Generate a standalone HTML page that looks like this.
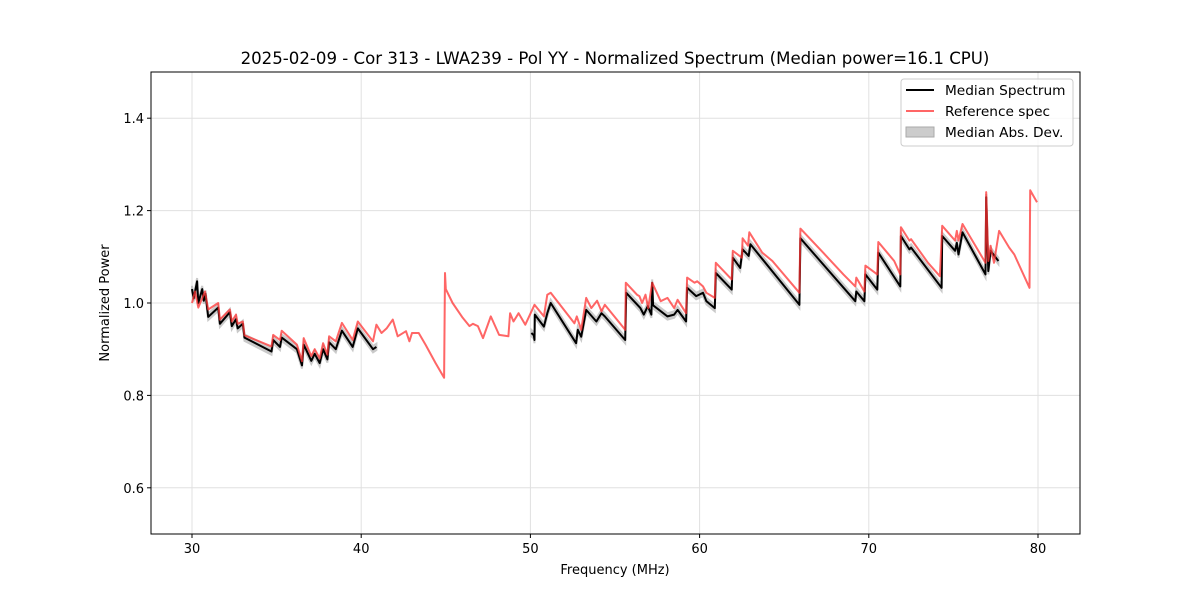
<!DOCTYPE html>
<html><head><meta charset="utf-8"><style>
body{margin:0;background:#fff;font-family:"Liberation Sans","DejaVu Sans",sans-serif}
svg text{font-family:"DejaVu Sans","Liberation Sans",sans-serif}
</style></head><body>
<svg id="chart" width="1200" height="600" xmlns="http://www.w3.org/2000/svg"></svg>
<script>
const refFreq=[30.0,30.18,30.37,30.77,30.96,31.55,31.65,32.24,32.35,32.6,32.7,33.0,33.1,34.7,34.8,35.2,35.3,36.2,36.5,36.6,37.05,37.25,37.55,37.75,38.0,38.1,38.5,38.86,39.5,39.8,40.7,40.9,41.2,41.5,41.87,42.16,42.65,42.85,43.0,43.4,43.8,44.4,44.9,44.95,45.0,45.4,46.0,46.4,46.6,46.9,47.2,47.66,48.15,48.7,48.8,49.0,49.3,49.7,50.24,50.8,51.0,51.2,52.6,52.74,53.0,53.3,53.6,53.94,54.2,54.4,55.6,55.64,56.3,56.44,56.6,56.8,56.96,57.2,57.7,58.1,58.5,58.7,59.2,59.26,59.7,59.86,60.2,60.4,60.9,60.96,61.9,61.96,62.5,62.54,62.86,62.94,63.7,64.3,65.9,65.96,67.3,68.5,69.2,69.26,69.74,69.8,70.5,70.56,71.5,71.86,71.9,72.4,72.5,73.5,74.2,74.34,75.1,75.2,75.3,75.54,76.9,76.94,77.06,77.2,77.4,77.7,78.3,78.6,79.5,79.54,79.94];
const refVal=[1.0,1.025,0.99,1.025,0.986,1.0,0.964,0.986,0.96,0.975,0.955,0.96,0.93,0.906,0.931,0.92,0.94,0.91,0.874,0.924,0.885,0.9,0.88,0.913,0.888,0.928,0.917,0.957,0.92,0.96,0.917,0.953,0.935,0.945,0.964,0.928,0.939,0.917,0.935,0.935,0.91,0.87,0.838,1.065,1.03,1.0,0.968,0.95,0.955,0.95,0.924,0.971,0.931,0.928,0.978,0.96,0.978,0.953,0.996,0.971,1.018,1.022,0.956,0.971,0.942,1.011,0.989,1.005,0.982,0.996,0.942,1.044,1.018,1.015,1.0,1.018,0.989,1.044,1.004,1.011,0.989,1.007,0.978,1.055,1.044,1.047,1.036,1.022,1.011,1.087,1.051,1.113,1.098,1.14,1.124,1.153,1.109,1.091,1.022,1.161,1.109,1.062,1.036,1.055,1.025,1.081,1.062,1.132,1.091,1.062,1.164,1.135,1.138,1.087,1.058,1.167,1.135,1.156,1.135,1.171,1.087,1.24,1.091,1.124,1.087,1.156,1.12,1.105,1.033,1.244,1.218];
const medFreqA=[30.0,30.1,30.3,30.37,30.6,30.7,30.8,30.96,31.55,31.65,32.24,32.35,32.6,32.7,33.0,33.1,34.7,34.8,35.2,35.3,36.2,36.5,36.6,37.05,37.25,37.55,37.75,38.0,38.1,38.5,38.86,39.5,39.8,40.7,40.9];
const medValA=[1.03,1.01,1.047,1.0,1.03,1.005,1.02,0.97,0.99,0.955,0.98,0.95,0.965,0.945,0.955,0.925,0.895,0.92,0.905,0.925,0.9,0.865,0.91,0.875,0.89,0.87,0.9,0.878,0.915,0.9,0.94,0.905,0.945,0.9,0.905];
const medFreqB=[50.06,50.2,50.24,50.26,50.8,51.0,51.2,52.7,52.8,53.0,53.3,53.9,54.2,54.4,55.6,55.66,56.5,56.7,56.94,57.15,57.2,57.25,58.1,58.5,58.7,59.2,59.26,59.8,60.2,60.4,60.9,60.96,61.9,61.96,62.4,62.54,62.9,63.0,65.9,65.96,69.2,69.26,69.74,69.8,70.5,70.56,71.86,71.9,72.4,72.5,74.3,74.34,75.1,75.2,75.3,75.54,76.9,76.94,77.06,77.2,77.66];
const medValB=[0.935,0.93,0.92,0.975,0.949,0.978,1.0,0.913,0.942,0.927,0.985,0.96,0.978,0.971,0.92,1.022,0.989,0.975,0.993,0.975,1.044,0.995,0.971,0.975,0.985,0.96,1.033,1.015,1.022,1.004,0.989,1.065,1.029,1.098,1.076,1.116,1.102,1.127,0.996,1.14,1.004,1.025,1.004,1.062,1.029,1.109,1.036,1.145,1.116,1.12,1.033,1.145,1.113,1.13,1.105,1.153,1.062,1.229,1.069,1.113,1.091];
const madVal=[0.007];
const xTicks=[30,40,50,60,70,80];
const yTicks=[0.6,0.8,1.0,1.2,1.4];

const NS="http://www.w3.org/2000/svg";
const svg=document.getElementById('chart');
const L=151,R=1080,T=72,B=534;
const X=f=>192+(f-30)*(1038-192)/50;
const Y=v=>B-(v-0.5)*(B-T)/1.0;
function mk(tag,attrs,parent){const e=document.createElementNS(NS,tag);for(const k in attrs)e.setAttribute(k,attrs[k]);(parent||svg).appendChild(e);return e;}
xTicks.forEach(t=>{const g=mk('line',{x1:X(t),x2:X(t),y1:T,y2:B,stroke:'#e0e0e0','stroke-width':1});

});
yTicks.forEach(t=>{const g=mk('line',{x1:L,x2:R,y1:Y(t),y2:Y(t),stroke:'#e0e0e0','stroke-width':1});

});
function pts(fs,vs,off){return fs.map((f,i)=>X(f).toFixed(1)+','+Y(vs[i]+off).toFixed(1));}
[[medFreqA,medValA],[medFreqB,medValB]].forEach(([fs,vs])=>{
 const up=pts(fs,vs,madVal[0]);const dn=pts(fs,vs,-madVal[0]).reverse();
 const p=mk('polygon',{points:up.concat(dn).join(' '),fill:'#bdbdbd',stroke:'#bdbdbd','stroke-width':2,opacity:0.8});
 
 
});
[[medFreqA,medValA],[medFreqB,medValB]].forEach(([fs,vs])=>{
 const p=mk('polyline',{points:pts(fs,vs,0).join(' '),fill:'none',stroke:'#000','stroke-width':2,'stroke-linejoin':'round'});
 
 
});
const rl=mk('polyline',{points:pts(refFreq,refVal,0).join(' '),fill:'none',stroke:'#ff3333','stroke-opacity':0.75,'stroke-width':2,'stroke-linejoin':'round'});


const fr=mk('rect',{x:L,y:T,width:R-L,height:B-T,fill:'none',stroke:'#000','stroke-width':1});


xTicks.forEach(t=>{mk('line',{x1:X(t),x2:X(t),y1:B,y2:B+4,stroke:'#000'});
const tx=mk('text',{x:X(t),y:B+19,'text-anchor':'middle','font-size':13});tx.textContent=t;

});
yTicks.forEach(t=>{mk('line',{x1:L-4,x2:L,y1:Y(t),y2:Y(t),stroke:'#000'});
const tx=mk('text',{x:L-7,y:Y(t)+5,'text-anchor':'end','font-size':13});tx.textContent=t.toFixed(1);

});
</script>
<svg style="position:absolute;left:0;top:0" width="1200" height="600" xmlns="http://www.w3.org/2000/svg">
<text x="615" y="64" text-anchor="middle" font-size="16.6">2025-02-09 - Cor 313 - LWA239 - Pol YY - Normalized Spectrum (Median power=16.1 CPU)</text>
<text x="615" y="574" text-anchor="middle" font-size="13">Frequency (MHz)</text>
<text x="0" y="0" transform="translate(109,303) rotate(-90)" text-anchor="middle" font-size="13">Normalized Power</text>
<g>
<rect x="901" y="79" width="172" height="67" rx="3" fill="#fff" fill-opacity="0.8" stroke="#ccc"/>
<line x1="906" x2="934" y1="90" y2="90" stroke="#000" stroke-width="2"/>
<text x="945" y="95" font-size="13.7">Median Spectrum</text>
<line x1="906" x2="934" y1="111" y2="111" stroke="#ff3333" stroke-opacity="0.75" stroke-width="2"/>
<text x="945" y="116" font-size="13.7">Reference spec</text>
<rect x="906" y="127" width="28" height="10" fill="#ccc" stroke="#aaa"/>
<text x="945" y="137" font-size="13.7">Median Abs. Dev.</text>
</g>
</svg>
</body></html>
